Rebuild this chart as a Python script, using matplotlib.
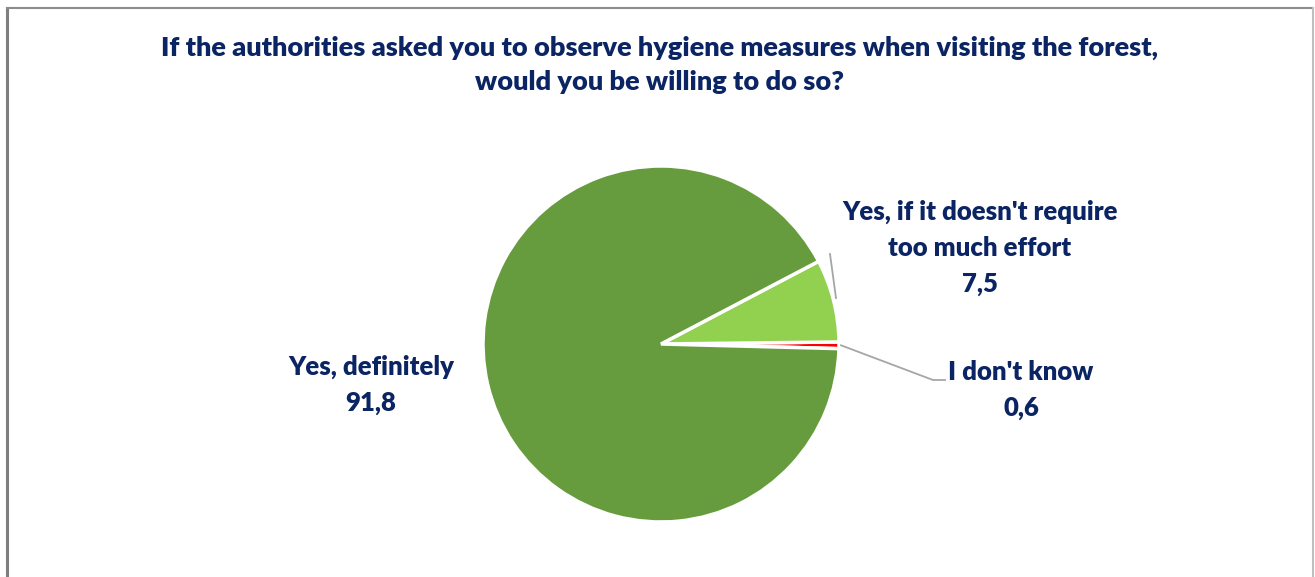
import numpy as np
import matplotlib.pyplot as plt
from matplotlib.lines import Line2D

# ── Data ──────────────────────────────────────────────────────────────────────
TITLE = ("If the authorities asked you to observe hygiene measures when visiting the forest,\n"
         "would you be willing to do so?")
labels = ["I don't know", "Yes, if it doesn't require\ntoo much effort", "Yes, definitely"]
values = [0.6, 7.5, 91.8]
value_text = ["0,6", "7,5", "91,8"]
colors = ["#FF0000", "#92D050", "#669C3E"]

NAVY = "#0B2463"
W, H = 1315, 577
plt.rcParams["font.family"] = ["Lato", "DejaVu Sans"]

fig = plt.figure(figsize=(W / 100, H / 100), dpi=100)
ax = fig.add_axes([0, 0, 1, 1])

# pixel-like coordinate system (y up)
cx, cy, r = 661, H - 344, 178
wedges, _ = ax.pie(values, colors=colors, startangle=-1.5, counterclock=True,
                   center=(cx, cy), radius=r,
                   wedgeprops=dict(edgecolor="white", linewidth=2.5))
ax.set_xlim(0, W)
ax.set_ylim(0, H)
ax.set_aspect("equal")
ax.axis("off")

# frame around chart area (bottom is cut off)
fig.add_artist(Line2D([7 / W, 7 / W], [0, 1 - 8 / H], color="#7F7F7F", lw=2.2, transform=fig.transFigure))
fig.add_artist(Line2D([7 / W, 1313 / W], [1 - 8 / H, 1 - 8 / H], color="#8C8C8C", lw=1.5, transform=fig.transFigure))
fig.add_artist(Line2D([1313 / W, 1313 / W], [0, 1 - 8 / H], color="#BFBFBF", lw=1.5, transform=fig.transFigure))

# title
ax.text(660, H - 65, TITLE, ha="center", va="center", fontsize=19.5, fontweight="heavy",
        color=NAVY, linespacing=1.5)

tkw = dict(ha="center", va="center", fontsize=18.5, fontweight="heavy", color=NAVY, linespacing=1.6)

# Yes, definitely (label to the left, no leader)
ax.text(371, H - 385, f"{labels[2]}\n{value_text[2]}", **tkw)

# Yes, if it doesn't require too much effort
ax.text(980, H - 248, f"{labels[1]}\n{value_text[1]}", **tkw)
ax.plot([830, 836], [H - 254, H - 298], color="#A6A6A6", lw=1.3)

# I don't know
ax.text(1021, H - 390, f"{labels[0]}\n{value_text[0]}", **tkw)
w0 = wedges[0]
mid = np.deg2rad((w0.theta1 + w0.theta2) / 2)
x0, y0 = cx + r * np.cos(mid), cy + r * np.sin(mid)
ax.plot([x0 + 2, 933, 945], [y0, H - 380, H - 380], color="#A6A6A6", lw=1.3)

fig.savefig("out.png", dpi=100, facecolor="white")
